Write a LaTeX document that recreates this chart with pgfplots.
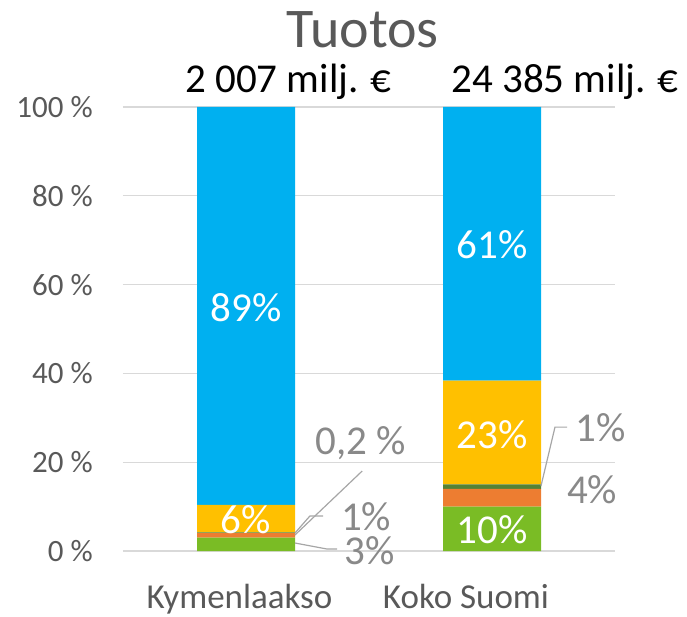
\documentclass[border=0pt]{standalone}
\usepackage{fontspec}
\setmainfont{Carlito}
\usepackage{pgfplots}
\pgfplotsset{compat=1.18}
\definecolor{cblue}{RGB}{0,176,240}
\definecolor{cyellow}{RGB}{255,192,0}
\definecolor{corange}{RGB}{237,125,49}
\definecolor{cgreen}{RGB}{122,188,37}
\definecolor{cdkgreen}{RGB}{84,130,53}
\definecolor{gridgray}{RGB}{217,217,217}
\definecolor{tickgray}{RGB}{89,89,89}
\definecolor{labgray}{RGB}{137,137,137}
\definecolor{leadgray}{RGB}{166,166,166}
\begin{document}
\begin{tikzpicture}
\path[use as bounding box] (-123pt,-65pt) rectangle (564pt,551pt);
\begin{axis}[
  at={(0pt,0pt)}, anchor=south west,
  scale only axis, width=492pt, height=444pt,
  xmin=-0.5, xmax=1.5, ymin=0, ymax=100,
  ybar stacked, bar width=98pt,
  xtick={0,1},
  xticklabels={{Kymenlaakso\rule{13pt}{0pt}},{Koko Suomi\rule{52pt}{0pt}}},
  ytick={0,20,40,60,80,100},
  yticklabels={0 \%,20 \%,40 \%,60 \%,80 \%,100 \%},
  axis line style={draw=none}, major tick length=0pt,
  ymajorgrids, grid style={color=gridgray, line width=1.3pt},
  yticklabel style={font=\fontsize{31}{37}\selectfont, text=tickgray, inner sep=0pt, anchor=east, xshift=-30pt},
  xticklabel style={font=\fontsize{35}{42}\selectfont, text=tickgray, inner sep=0pt, anchor=base, yshift=-57pt},
  clip=false,
]
\addplot[fill=cgreen, draw=none] coordinates {(0,3) (1,10)};
\addplot[fill=corange, draw=none] coordinates {(0,1) (1,4)};
\addplot[fill=cdkgreen, draw=none] coordinates {(0,0.2) (1,1)};
\addplot[fill=cyellow, draw=none] coordinates {(0,6.2) (1,23.4)};
\addplot[fill=cblue, draw=none] coordinates {(0,89.6) (1,61.6)};
\end{axis}
\begin{axis}[
  at={(0pt,0pt)}, anchor=south west,
  scale only axis, width=492pt, height=444pt,
  xmin=-0.5, xmax=1.5, ymin=0, ymax=100,
  hide axis, clip=false,
]
% white labels inside bars
\node[text=white, font=\fontsize{41}{49}\selectfont] at (axis cs:0,54.7) {89\%};
\node[text=white, font=\fontsize{41}{49}\selectfont] at (axis cs:0,7.0) {6\%};
\node[text=white, font=\fontsize{41}{49}\selectfont] at (axis cs:1,68.9) {61\%};
\node[text=white, font=\fontsize{41}{49}\selectfont] at (axis cs:1,26.1) {23\%};
\node[text=white, font=\fontsize{41}{49}\selectfont] at (axis cs:1,4.7) {10\%};

% gray outside labels with leaders
\draw[leadgray, line width=1.2pt] (axis cs:0.199,3.6) -- (axis cs:0.472,18.0);
\draw[leadgray, line width=1.2pt] (axis cs:0.199,4.05) -- (axis cs:0.260,7.9) -- (axis cs:0.313,7.9);
\draw[leadgray, line width=1.2pt] (axis cs:0.199,1.8) -- (axis cs:0.329,0.45) -- (axis cs:0.370,0.45);
\draw[leadgray, line width=1.2pt] (axis cs:1.199,14.6) -- (axis cs:1.256,27.9) -- (axis cs:1.305,27.9);
\node[text=labgray, font=\fontsize{41}{49}\selectfont] at (axis cs:0.467,24.3) {0,2 \%};
\node[text=labgray, font=\fontsize{41}{49}\selectfont] at (axis cs:0.488,7.66) {1\%};
\node[text=labgray, font=\fontsize{41}{49}\selectfont] at (axis cs:0.504,0) {3\%};
\node[text=labgray, font=\fontsize{41}{49}\selectfont] at (axis cs:1.443,27.7) {1\%};
\node[text=labgray, font=\fontsize{41}{49}\selectfont] at (axis cs:1.407,13.7) {4\%};

% title and totals
\node[anchor=base, text=tickgray, font=\fontsize{56}{67}\selectfont] at (axis cs:0.474,113.3) {Tuotos};
\node[anchor=base, text=black, font=\fontsize{41}{49}\selectfont] at (axis cs:0.173,103.2) {2 007 milj. €};
\node[anchor=base, text=black, font=\fontsize{41}{49}\selectfont] at (axis cs:1.297,103.2) {24 385 milj. €};
\end{axis}
\end{tikzpicture}
\end{document}
